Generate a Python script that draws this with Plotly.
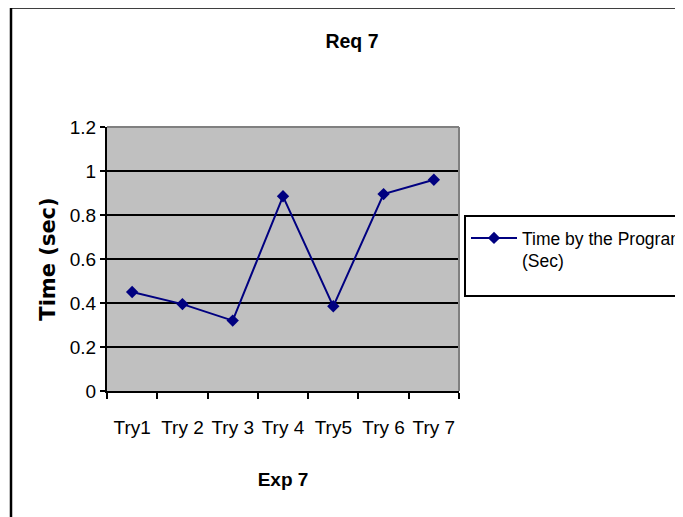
import plotly.graph_objects as go

# ---- data ----
categories = ["Try1", "Try 2", "Try 3", "Try 4", "Try5", "Try 6", "Try 7"]
times = [0.45, 0.395, 0.32, 0.885, 0.385, 0.895, 0.96]
series_name = "Time by the Program<br>(Sec)"
y_ticks = [0, 0.2, 0.4, 0.6, 0.8, 1.0, 1.2]
y_tick_labels = ["0", "0.2", "0.4", "0.6", "0.8", "1", "1.2"]

# ---- layout geometry (page pixels; the page body has an 8px margin) ----
OFF = 8
W, H = 683 - OFF, 517 - OFF
PL, PR, PT, PB = 107, 459, 127, 391          # plot area on the page
L, T = PL - OFF, PT - OFF
pw, ph = PR - PL, PB - PT
R = W - L - pw
B = H - T - ph


def px_x(px):
    return (px - PL) / pw


def px_y(py):
    return (PB - py) / ph


FONT = "Liberation Sans, Arial, sans-serif"
NAVY = "#000080"

fig = go.Figure()
fig.add_trace(go.Scatter(
    x=categories, y=times, mode="lines+markers", name=series_name,
    line=dict(color=NAVY, width=2),
    marker=dict(symbol="diamond", size=9.5, color=NAVY, line=dict(width=0)),
))

fig.update_layout(
    width=W, height=H,
    margin=dict(l=L, r=R, t=T, b=B, autoexpand=False),
    paper_bgcolor="white", plot_bgcolor="#C0C0C0",
    title=dict(text="<b>Req 7</b>", x=(352 - OFF) / W, xref="container", xanchor="center",
               y=1 - (41 - OFF) / H, yref="container", yanchor="middle",
               font=dict(family=FONT, size=19.5, color="black")),
    showlegend=True,
    legend=dict(x=px_x(466), xanchor="left", y=px_y(220), yanchor="top",
                borderwidth=0, bgcolor="rgba(0,0,0,0)",
                font=dict(family=FONT, size=17.5, color="black"),
                valign="top", itemwidth=46),
    xaxis=dict(type="category", range=[-0.5, 6.5], showline=True, linecolor="black",
               linewidth=2, ticks="outside", ticklen=6, tickwidth=1.5, tickcolor="black",
               tickson="boundaries", showgrid=False, zeroline=False, tickangle=0,
               tickfont=dict(family=FONT, size=19, color="black"),
               ticklabelstandoff=18,
               title=dict(text="<b>Exp 7</b>", standoff=36,
                          font=dict(family=FONT, size=19, color="black"))),
    yaxis=dict(range=[0, 1.2], tickvals=y_ticks, ticktext=y_tick_labels,
               showline=True, linecolor="black", linewidth=2,
               ticks="outside", ticklen=5, tickwidth=1.5, tickcolor="black",
               showgrid=True, gridcolor="black", gridwidth=2, zeroline=False,
               tickfont=dict(family=FONT, size=19, color="black"),
               title=dict(text="<b>Time (sec)</b>", standoff=8,
                          font=dict(family="DejaVu Sans", size=21, color="black"))),
    shapes=[
        # gray plot-area border (top and right)
        dict(type="line", xref="paper", yref="paper", x0=0, x1=1, y0=1, y1=1,
             line=dict(color="#808080", width=2), layer="above"),
        dict(type="line", xref="paper", yref="paper", x0=1, x1=1, y0=0, y1=1,
             line=dict(color="#808080", width=2), layer="above"),
        # legend box
        dict(type="rect", xref="paper", yref="paper",
             x0=px_x(465), x1=px_x(720), y0=px_y(216), y1=px_y(296),
             line=dict(color="black", width=2), fillcolor="white", layer="below"),
        # outer chart border
        dict(type="rect", xref="paper", yref="paper",
             x0=px_x(11), x1=px_x(720), y0=px_y(7.5), y1=px_y(560),
             line=dict(color="black", width=2.5), fillcolor="rgba(0,0,0,0)",
             layer="below"),
    ],
)

fig.write_html("out.html")
